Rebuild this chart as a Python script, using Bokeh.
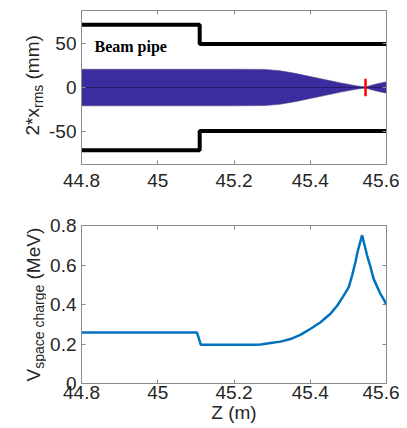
import math
from bokeh.plotting import figure
from bokeh.models import Range1d, FixedTicker, LinearAxis, Label
from bokeh.layouts import column, row
from bokeh.core.properties import value
from bokeh.embed import file_html
from bokeh.resources import INLINE

# ---------------- data ----------------
x_ticks = [44.8, 45.0, 45.2, 45.4, 45.6]
x_tick_labels = ["44.8", "45", "45.2", "45.4", "45.6"]
top_y_ticks = [-50, 0, 50]
top_y_tick_labels = ["-50", "0", "50"]
bot_y_ticks = [0, 0.2, 0.4, 0.6, 0.8]
bot_y_tick_labels = ["0", "0.2", "0.4", "0.6", "0.8"]

# beam pipe radius (mm) vs z (m)
pipe_z = [44.8, 45.11, 45.11, 45.6]
pipe_r = [72, 72, 50, 50]

# beam envelope half-width 2*x_rms (mm)
env_z = [44.8, 45.0, 45.2, 45.28, 45.32, 45.36, 45.40, 45.44, 45.48, 45.52, 45.545, 45.57, 45.6]
env_hw = [21, 21, 21, 20.8, 19.3, 16.3, 12.6, 9.0, 5.3, 2.0, 0.6, 3.6, 6.6]

# red marker (waist position)
marker_z = [45.545]
marker_half = [10]

# space-charge voltage (MeV)
vsc_z = [44.8, 45.103, 45.113, 45.25, 45.27, 45.296, 45.322, 45.348, 45.374, 45.40,
         45.427, 45.453, 45.471, 45.488, 45.501, 45.510, 45.519, 45.524, 45.536,
         45.549, 45.558, 45.566, 45.576, 45.584, 45.593, 45.6]
vsc = [0.258, 0.258, 0.196, 0.196, 0.198, 0.205, 0.212, 0.225, 0.246, 0.276,
       0.310, 0.353, 0.395, 0.446, 0.488, 0.548, 0.619, 0.666, 0.751,
       0.649, 0.590, 0.531, 0.488, 0.454, 0.425, 0.398]

FONT = "Liberation Sans"
TICK_FS = "19px"
LAB_FS = "19px"
SUB_FS = "14px"
TXT_COLOR = "#262626"
AX_COLOR = "#8a8a8a"
LAB_W = 46
TOTAL_W = 399


def box_axis(ticks):
    return LinearAxis(ticker=FixedTicker(ticks=ticks), major_label_text_font_size="1px",
                      major_label_text_color=None, major_label_standoff=0,
                      major_tick_in=4, major_tick_out=0,
                      minor_tick_line_color=None, axis_line_color=AX_COLOR,
                      major_tick_line_color=AX_COLOR)


def style_axes(p, yticks, ylabels):
    p.xaxis.ticker = FixedTicker(ticks=x_ticks)
    p.xaxis.major_label_overrides = dict(zip(x_ticks, x_tick_labels))
    p.yaxis.ticker = FixedTicker(ticks=yticks)
    p.yaxis.major_label_overrides = dict(zip(yticks, ylabels))
    for ax in p.axis:
        ax.major_label_text_font = FONT
        ax.major_label_text_font_size = TICK_FS
        ax.major_label_text_color = TXT_COLOR
        ax.major_tick_in = 4
        ax.major_tick_out = 0
        ax.minor_tick_line_color = None
        ax.axis_line_color = AX_COLOR
        ax.major_tick_line_color = AX_COLOR
    p.yaxis.major_label_standoff = 5
    p.add_layout(box_axis(x_ticks), "above")
    p.add_layout(box_axis(yticks), "right")
    p.grid.visible = False
    p.outline_line_color = AX_COLOR
    p.background_fill_color = "white"
    p.border_fill_color = "white"


def label_fig(h, ftop, fbot):
    # frame of this strip is aligned with the neighbouring plot's frame (ftop..fbot,
    # measured from the strip's top); data y = h - (distance from strip top)
    f = figure(width=LAB_W, height=h, output_backend="svg", toolbar_location=None,
               x_range=Range1d(0, LAB_W), y_range=Range1d(h - fbot, h - ftop),
               x_axis_type=None, y_axis_type=None,
               min_border_left=0, min_border_right=0,
               min_border_top=ftop, min_border_bottom=h - fbot)
    f.grid.visible = False
    f.outline_line_color = None
    f.background_fill_color = "white"
    f.border_fill_color = "white"
    return f


def put_text(f, h, top, px, py, txt, size, angle=math.pi / 2, align="left"):
    f.text(x=[px], y=[h - (py - top)], text=[txt], angle=angle,
           text_font=value(FONT), text_font_size=value(size), text_color=TXT_COLOR,
           text_baseline=value("alphabetic"), text_align=value(align))


# ---------------- top panel ----------------
H1 = 200
p1 = figure(width=TOTAL_W - LAB_W, height=H1, output_backend="svg", toolbar_location=None,
            x_range=Range1d(44.8, 45.6), y_range=Range1d(-88.5, 88.5),
            min_border_left=81 - LAB_W, min_border_right=13,
            min_border_top=10, min_border_bottom=36)
style_axes(p1, top_y_ticks, top_y_tick_labels)
p1.below[0].major_label_standoff = 9

env_x = env_z + env_z[::-1]
env_y = env_hw + [-v for v in env_hw[::-1]]
p1.patch(env_x, env_y, fill_color="#3B2CA0", line_color="#4a4a7a", line_width=0.6)
p1.line([env_z[0], env_z[-1]], [0, 0], line_color="#261a6b", line_width=1.2)
p1.line(pipe_z, pipe_r, line_color="black", line_width=4)
p1.line(pipe_z, [-r for r in pipe_r], line_color="black", line_width=4)
p1.segment(x0=marker_z, y0=[-h for h in marker_half], x1=marker_z, y1=marker_half,
           line_color="#ff0000", line_width=2.5)
p1.add_layout(Label(x=44.834, y=47.1, text="Beam pipe", text_font="Times New Roman",
                    text_font_style="bold", text_font_size="16px", text_color="black",
                    text_baseline="alphabetic", text_align="left"))

lab1 = label_fig(H1, 10, 164)
put_text(lab1, H1, 0, 32, 135, "2*x", LAB_FS)
put_text(lab1, H1, 0, 37, 107.5, "rms", SUB_FS)
put_text(lab1, H1, 0, 32, 79, "(mm)", LAB_FS)

# ---------------- bottom panel ----------------
H2 = 228
p2 = figure(width=TOTAL_W - LAB_W, height=H2, output_backend="svg", toolbar_location=None,
            x_range=Range1d(44.8, 45.6), y_range=Range1d(0, 0.8),
            min_border_left=81 - LAB_W, min_border_right=13,
            min_border_top=25, min_border_bottom=45)
style_axes(p2, bot_y_ticks, bot_y_tick_labels)
bx = p2.below[0]
bx.major_label_standoff = 2
bx.axis_label = "Z (m)"
bx.axis_label_standoff = 0
bx.axis_label_text_font = FONT
bx.axis_label_text_font_size = LAB_FS
bx.axis_label_text_font_style = "normal"
bx.axis_label_text_color = TXT_COLOR
p2.line(vsc_z, vsc, line_color="#0072BD", line_width=2.5)

lab2 = label_fig(H2, 25, 183)
put_text(lab2, H2, H1, 33, 381, "V", LAB_FS)
put_text(lab2, H2, H1, 38, 368.3, "space charge", SUB_FS)
put_text(lab2, H2, H1, 33, 279, "(MeV)", LAB_FS)

layout = column(row(lab1, p1, spacing=0), row(lab2, p2, spacing=0), spacing=0)
open("out.html", "w").write(file_html(layout, INLINE))
